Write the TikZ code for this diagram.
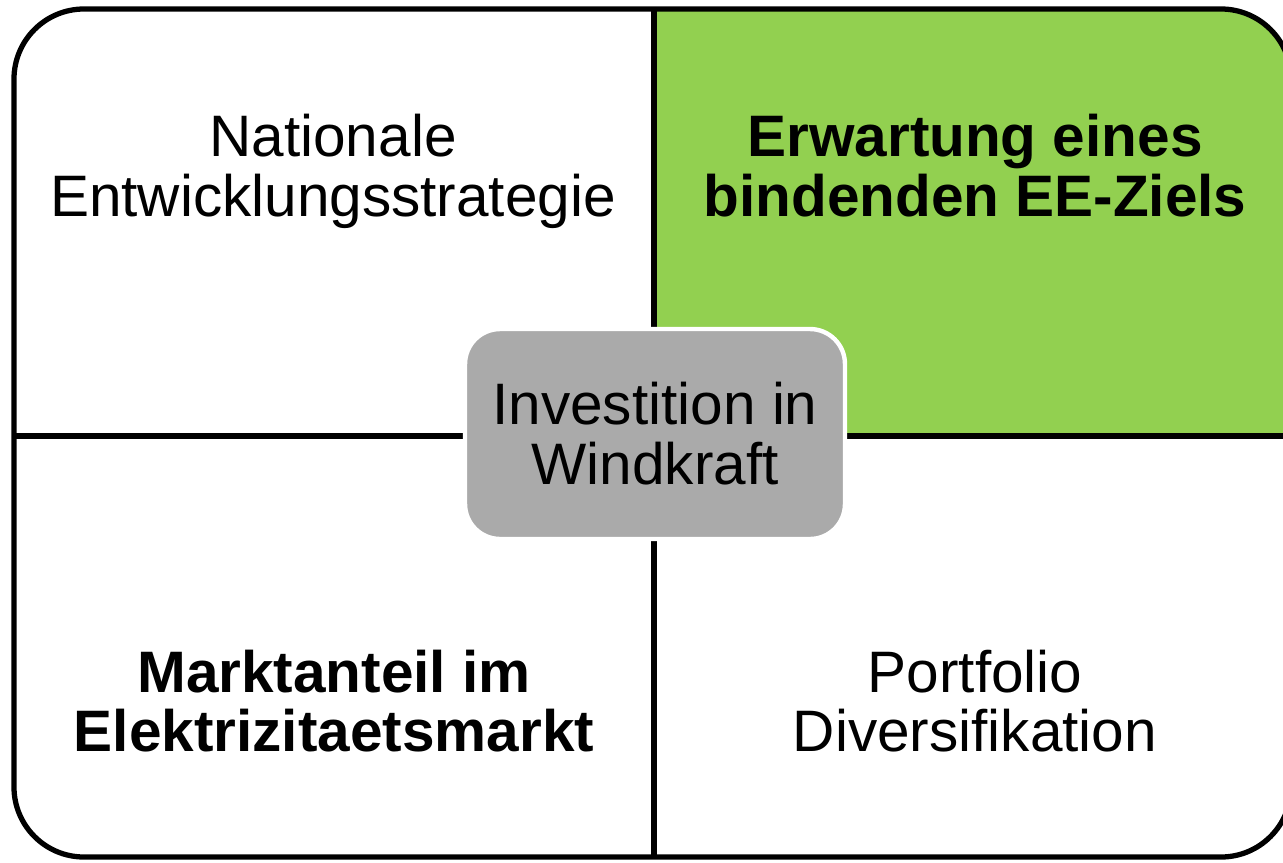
\documentclass[tikz,border=0pt]{standalone}
\usepackage{fontspec}
\setmainfont{Liberation Sans}
\usetikzlibrary{positioning, calc}
\definecolor{eegreen}{HTML}{92D050}
\definecolor{hubgray}{HTML}{AAAAAA}
\tikzset{
    quadtext/.style={align=center, text depth=0.25cm, font=\fontsize{33.3}{34.1}\selectfont},
    quadbold/.style={quadtext, font=\fontsize{33.3}{34.1}\selectfont\bfseries},
    hub/.style={rounded corners=0.7cm, fill=hubgray, draw=white, line width=2.5pt,
        minimum width=7.6cm, minimum height=4.2cm, align=center,
        font=\fontsize{33.3}{34.1}\selectfont},
    divider/.style={line width=3pt},
}

\begin{document}
\begin{tikzpicture}[x=0.02cm, y=-0.02cm]
    \useasboundingbox (0,0) rectangle (1283,862);

    \coordinate (nw) at (14,9);
    \coordinate (se) at (1291,857);
    \coordinate (top) at (654,9);
    \coordinate (bottom) at (654,857);
    \coordinate (left) at (14,436);
    \coordinate (right) at (1291,436);

    % green quadrant, clipped to the frame
    \begin{scope}
      \clip[rounded corners=1.4cm] (nw) rectangle (se);
      \fill[eegreen] (top) rectangle (right);
    \end{scope}

    \draw[divider] (top) -- (bottom);
    \draw[divider] (left) -- (right);
    \draw[divider, rounded corners=1.4cm] (nw) rectangle (se);

    \node[quadtext] (natdev) at (333,172) {Nationale\\Entwicklungsstrategie};
    \node[quadbold] (eegoal) at (975,172) {Erwartung eines\\bindenden EE-Ziels};
    \node[quadbold] (market) at (334,707) {Marktanteil im\\Elektrizitaetsmarkt};
    \node[quadtext] (portfolio) at (975,707) {Portfolio\\Diversifikation};

    \node[hub] (invest) at (655,434) {Investition in\\Windkraft};

\end{tikzpicture}
\end{document}
